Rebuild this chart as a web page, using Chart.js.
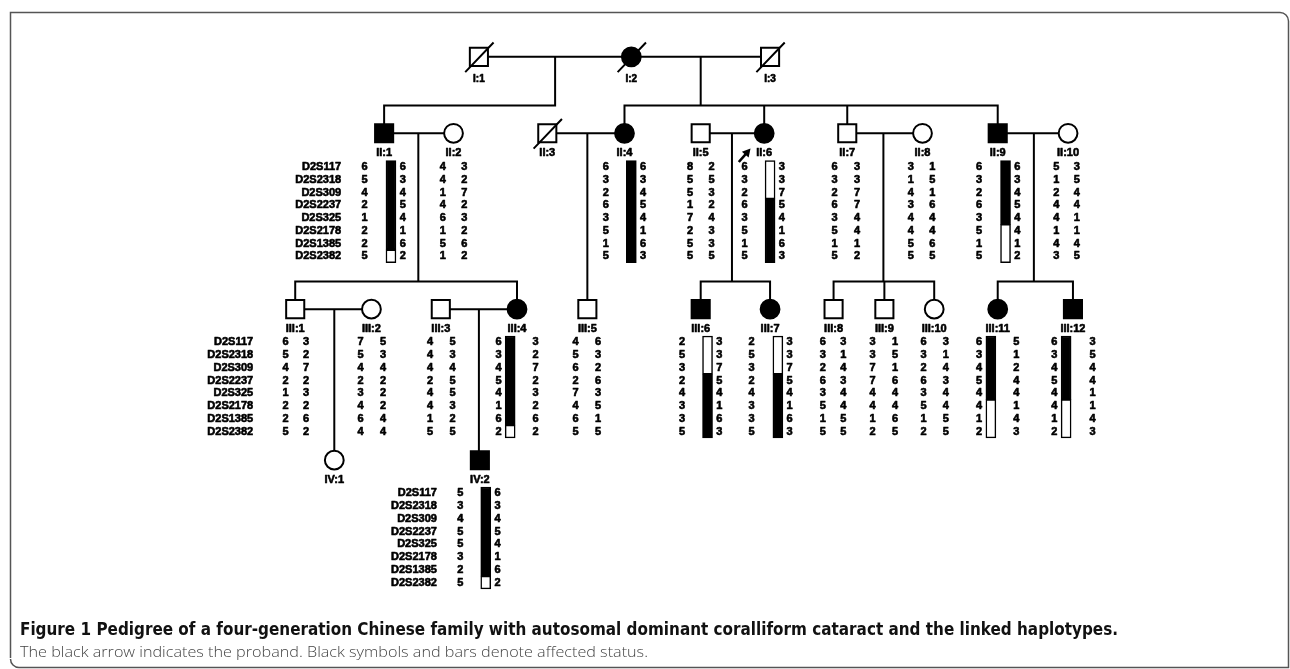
<!DOCTYPE html>
<html><head><meta charset="utf-8">
<script src="https://cdn.jsdelivr.net/npm/chart.js@4.4.1/dist/chart.umd.min.js"></script>
<style>html,body{margin:0;padding:0;background:#fff;}canvas{display:block;}</style>
</head><body>
<canvas id="c" width="1290" height="669"></canvas>
<script>
// ---------------- DATA ----------------
const markers = ['D2S117','D2S2318','D2S309','D2S2237','D2S325','D2S2178','D2S1385','D2S2382'];

const ids      = ['I:1','I:2','I:3','II:1','II:2','II:3','II:4','II:5','II:6','II:7','II:8','II:9','II:10',
                  'III:1','III:2','III:3','III:4','III:5','III:6','III:7','III:8','III:9','III:10','III:11','III:12','IV:1','IV:2'];
const sexes    = ['M','F','M','M','F','M','F','M','F','M','F','M','F','M','F','M','F','M','M','F','M','M','F','F','M','F','M'];
const affected = [0,1,0,1,0,0,1,0,1,0,0,1,0,0,0,0,1,0,1,1,0,0,0,1,1,0,1];
const deceased = [1,1,1,0,0,1,0,0,0,0,0,0,0,0,0,0,0,0,0,0,0,0,0,0,0,0,0];
const proband  = 'II:6';

// haplotypes: [left column, right column], one value per marker
const hII_1   = [[6,5,4,2,1,2,2,5],[6,3,4,5,4,1,6,2]];
const hII_2   = [[4,4,1,4,6,1,5,1],[3,2,7,2,3,2,6,2]];
const hII_4   = [[6,3,2,6,3,5,1,5],[6,3,4,5,4,1,6,3]];
const hII_5   = [[8,5,5,1,7,2,5,5],[2,5,3,2,4,3,3,5]];
const hII_6   = [[6,3,2,6,3,5,1,5],[3,3,7,5,4,1,6,3]];
const hII_7   = [[6,3,2,6,3,5,1,5],[3,3,7,7,4,4,1,2]];
const hII_8   = [[3,1,4,3,4,4,5,5],[1,5,1,6,4,4,6,5]];
const hII_9   = [[6,3,2,6,3,5,1,5],[6,3,4,5,4,4,1,2]];
const hII_10  = [[5,1,2,4,4,1,4,3],[3,5,4,4,1,1,4,5]];
const hIII_1  = [[6,5,4,2,1,2,2,5],[3,2,7,2,3,2,6,2]];
const hIII_2  = [[7,5,4,2,3,4,6,4],[5,3,4,2,2,2,4,4]];
const hIII_3  = [[4,4,4,2,4,4,1,5],[5,3,4,5,5,3,2,5]];
const hIII_4  = [[6,3,4,5,4,1,6,2],[3,2,7,2,3,2,6,2]];
const hIII_5  = [[4,5,6,2,7,4,6,5],[6,3,2,6,3,5,1,5]];
const hIII_6  = [[2,5,3,2,4,3,3,5],[3,3,7,5,4,1,6,3]];
const hIII_7  = [[2,5,3,2,4,3,3,5],[3,3,7,5,4,1,6,3]];
const hIII_8  = [[6,3,2,6,3,5,1,5],[3,1,4,3,4,4,5,5]];
const hIII_9  = [[3,3,7,7,4,4,1,2],[1,5,1,6,4,4,6,5]];
const hIII_10 = [[6,3,2,6,3,5,1,2],[3,1,4,3,4,4,5,5]];
const hIII_11 = [[6,3,4,5,4,4,1,2],[5,1,2,4,4,1,4,3]];
const hIII_12 = [[6,3,4,5,4,4,1,2],[3,5,4,4,1,1,4,3]];
const hIV_2   = [[5,3,4,5,5,3,2,5],[6,3,4,5,4,1,6,2]];

const haplotypes = [['II:1',hII_1],['II:2',hII_2],['II:4',hII_4],['II:5',hII_5],['II:6',hII_6],['II:7',hII_7],
  ['II:8',hII_8],['II:9',hII_9],['II:10',hII_10],['III:1',hIII_1],['III:2',hIII_2],['III:3',hIII_3],['III:4',hIII_4],
  ['III:5',hIII_5],['III:6',hIII_6],['III:7',hIII_7],['III:8',hIII_8],['III:9',hIII_9],['III:10',hIII_10],
  ['III:11',hIII_11],['III:12',hIII_12],['IV:2',hIV_2]];

// disease haplotype: [individual, carrying column (0 left / 1 right), linked segment per marker (1 black, 0 white)]
const carriers = [
  ['II:1', 1,[1,1,1,1,1,1,1,0]],
  ['II:4', 1,[1,1,1,1,1,1,1,1]],
  ['II:6', 1,[0,0,0,1,1,1,1,1]],
  ['II:9', 1,[1,1,1,1,1,0,0,0]],
  ['III:4',0,[1,1,1,1,1,1,1,0]],
  ['III:6',1,[0,0,0,1,1,1,1,1]],
  ['III:7',1,[0,0,0,1,1,1,1,1]],
  ['III:11',0,[1,1,1,1,1,0,0,0]],
  ['III:12',0,[1,1,1,1,1,0,0,0]],
  ['IV:2', 1,[1,1,1,1,1,1,1,0]]
];

const matings  = [['I:1','I:2'],['I:2','I:3'],['II:1','II:2'],['II:3','II:4'],['II:5','II:6'],['II:7','II:8'],['II:9','II:10'],['III:1','III:2'],['III:3','III:4']];
const children = [['II:1'],['II:4','II:6','II:7','II:9'],['III:1','III:4'],['III:5'],['III:6','III:7'],['III:8','III:9','III:10'],['III:11','III:12'],['IV:1'],['IV:2']];

const captionTitle = 'Figure 1 Pedigree of a four-generation Chinese family with autosomal dominant coralliform cataract and the linked haplotypes.';
const captionText  = 'The black arrow indicates the proband. Black symbols and bars denote affected status.';

// ---------------- LAYOUT ----------------
const W = 1290, H = 669;
const POS_X = {'I:1':475,'I:2':631,'I:3':773,'II:1':378,'II:2':449,'II:3':545,'II:4':624,'II:5':702,'II:6':767,
  'II:7':852,'II:8':929,'II:9':1006,'II:10':1078,'III:1':287,'III:2':365,'III:3':436,'III:4':514,'III:5':586,
  'III:6':702,'III:7':773,'III:8':838,'III:9':890,'III:10':941,'III:11':1006,'III:12':1083,'IV:1':327,'IV:2':476};
const GEN_Y = {I:44, II:124, III:308, IV:466};
const LABEL_DY = {I:23, II:21, III:21, IV:21};
const ALLELE_X = {'II:1':[358,397],'II:2':[438,460],'II:4':[605,643],'II:5':[691,713],'II:6':[747,785],'II:7':[839,862],
  'II:8':[917,939],'II:9':[987,1026],'II:10':[1066,1087],'III:1':[277,298],'III:2':[354,377],'III:3':[425,448],
  'III:4':[495,533],'III:5':[574,597],'III:6':[683,721],'III:7':[754,793],'III:8':[827,848],'III:9':[878,901],
  'III:10':[930,953],'III:11':[987,1025],'III:12':[1064,1103],'IV:2':[456,494]};
const ROW_Y0 = {II:159.3, III:342.7, IV:500.7};
const ROW_STEP = 13.33;
const MARKER_X = {II:334, III:244, IV:432};
const DROP_X = [553,702,413,586,734,889,1043,327,475];
const SIB_Y  = [95,95,279,null,279,279,279,null,null];
const BAR_GAP = 12;

const gen = id => id.split(':')[0];
const yOf = id => GEN_Y[gen(id)];
const GAP = {x:null, y:null};

// connecting lines
const lineData = [];
function seg(x1,y1,x2,y2){ lineData.push({x:x1,y:y1},{x:x2,y:y2},GAP); }
matings.forEach((m,i)=>{
  const [a,b] = m, y = yOf(a);
  seg(POS_X[a], y, POS_X[b], y);
  const kids = children[i], dx = DROP_X[i], sy = SIB_Y[i];
  if (sy === null) {
    seg(dx, y, dx, yOf(kids[0]));
  } else {
    seg(dx, y, dx, sy);
    const xs = kids.map(k=>POS_X[k]).concat([dx]);
    seg(Math.min(...xs), sy, Math.max(...xs), sy);
    kids.forEach(k=>seg(POS_X[k], sy, POS_X[k], yOf(k)));
  }
});

// deceased slashes
const slashData = [];
ids.forEach((id,i)=>{ if (deceased[i]) { const x=POS_X[id], y=yOf(id);
  slashData.push({x:x-14,y:y+16},{x:x+15,y:y-15},GAP); }});

// symbols
const symData = ids.map(id=>({x:POS_X[id], y:yOf(id)}));
const symStyle = sexes.map(s=> s==='M' ? 'rect' : 'circle');
const symRadius = sexes.map(s=> s==='M' ? 12.8 : 9.4);
const symFill = affected.map(a=> a ? '#000' : '#fff');

// haplotype bars
const barData = [], barFill = [];
carriers.forEach(([id, col, segs])=>{
  const g = gen(id), ax = ALLELE_X[id];
  const bx = col === 1 ? ax[1] - BAR_GAP : ax[0] + BAR_GAP;
  let start = 0;
  for (let r = 1; r <= segs.length; r++) {
    if (r === segs.length || segs[r] !== segs[start]) {
      const top = ROW_Y0[g] + ROW_STEP*start - ROW_STEP/2;
      const bot = ROW_Y0[g] + ROW_STEP*(r-1) + ROW_STEP/2;
      barData.push({x:bx, y:[top, bot]});
      barFill.push(segs[start] ? '#000' : '#fff');
      start = r;
    }
  }
});

// ---------------- PLUGINS ----------------
const framePlugin = {
  id:'frame',
  beforeDraw(chart){
    const c = chart.ctx;
    c.save();
    c.fillStyle = '#fff'; c.fillRect(0,0,W,H);
    c.strokeStyle = '#555'; c.lineWidth = 1.5;
    c.beginPath();
    c.moveTo(10.5, 658);
    c.lineTo(10.5, 12.5);
    c.lineTo(1280, 12.5);
    c.arcTo(1288.5, 12.5, 1288.5, 21, 8.5);
    c.lineTo(1288.5, 667.5);
    c.lineTo(19, 667.5);
    c.arcTo(10.5, 667.5, 10.5, 659, 8.5);
    c.stroke();
    c.restore();
  },
  afterDraw(chart){
    const c = chart.ctx;
    c.save();
    c.textBaseline = 'middle'; c.textAlign = 'left';
    c.fillStyle = '#111';
    c.font = 'bold 17px "Liberation Sans Narrow", "DejaVu Sans Condensed", "Liberation Sans", sans-serif';
    let w = c.measureText(captionTitle).width;
    c.save(); c.translate(20, 631); c.scale(1098/w, 1); c.fillText(captionTitle, 0, 0); c.restore();
    c.fillStyle = '#444';
    c.font = '300 15px "Open Sans", "Liberation Sans Narrow", sans-serif';
    w = c.measureText(captionText).width;
    c.save(); c.translate(20, 653); c.scale(628/w, 1); c.fillText(captionText, 0, 0); c.restore();
    c.restore();
  }
};

function heavyText(c, s, x, y){ c.strokeText(s, x, y); c.fillText(s, x, y); }

const textPlugin = {
  id:'pedText',
  afterDatasetsDraw(chart){
    const c = chart.ctx, sx = chart.scales.x, sy = chart.scales.y;
    const X = v => sx.getPixelForValue(v), Y = v => sy.getPixelForValue(v);
    c.save();
    c.fillStyle = '#000'; c.strokeStyle = '#000'; c.lineWidth = 0.6; c.lineJoin = 'round';
    c.textBaseline = 'middle';
    // individual labels
    ids.forEach(id=>{
      const g = gen(id);
      c.font = (g==='I' ? 'bold 10px' : 'bold 11px') + ' "Liberation Sans", Arial, sans-serif';
      c.textAlign = 'center';
      heavyText(c, id, X(POS_X[id]), Y(GEN_Y[g] + LABEL_DY[g]));
    });
    c.font = 'bold 11px "Liberation Sans", Arial, sans-serif';
    // marker names
    Object.keys(MARKER_X).forEach(g=>{
      c.textAlign = 'right';
      markers.forEach((m,r)=> heavyText(c, m, X(MARKER_X[g]), Y(ROW_Y0[g] + ROW_STEP*r)));
    });
    // alleles
    c.textAlign = 'center';
    haplotypes.forEach(([id, h])=>{
      const g = gen(id), ax = ALLELE_X[id];
      h.forEach((colVals, ci)=> colVals.forEach((v,r)=>
        heavyText(c, String(v), X(ax[ci]), Y(ROW_Y0[g] + ROW_STEP*r))));
    });
    // proband arrow
    const px = POS_X[proband], py = GEN_Y[gen(proband)];
    const x1 = X(px-26), y1 = Y(py+30), x2 = X(px-14), y2 = Y(py+16);
    const ang = Math.atan2(y2-y1, x2-x1);
    c.lineWidth = 2.6;
    c.beginPath(); c.moveTo(x1,y1); c.lineTo(x2 - 4*Math.cos(ang), y2 - 4*Math.sin(ang)); c.stroke();
    c.beginPath();
    c.moveTo(x2, y2);
    c.lineTo(x2 - 8*Math.cos(ang) + 4.5*Math.sin(ang), y2 - 8*Math.sin(ang) - 4.5*Math.cos(ang));
    c.lineTo(x2 - 8*Math.cos(ang) - 4.5*Math.sin(ang), y2 - 8*Math.sin(ang) + 4.5*Math.cos(ang));
    c.closePath(); c.fill();
    c.restore();
  }
};

// ---------------- CHART ----------------
new Chart(document.getElementById('c').getContext('2d'), {
  type: 'scatter',
  data: {
    datasets: [
      { type:'line', label:'deceased', data: slashData, borderColor:'#000', borderWidth:2, pointRadius:0, spanGaps:false, order:0 },
      { type:'scatter', label:'individuals', data: symData, pointStyle: symStyle, pointRadius: symRadius,
        pointHoverRadius: symRadius, pointBackgroundColor: symFill, pointBorderColor:'#000', pointBorderWidth:2, order:1 },
      { type:'bar', label:'haplotype', data: barData, backgroundColor: barFill, borderColor:'#000', borderWidth:1.5,
        borderSkipped:false, barThickness:10, grouped:false, order:2 },
      { type:'line', label:'lines', data: lineData, borderColor:'#000', borderWidth:2, pointRadius:0, spanGaps:false,
        borderCapStyle:'square', tension:0, order:3 }
    ]
  },
  options: {
    responsive:false, animation:false, devicePixelRatio:1, events:[],
    layout:{padding:0},
    scales:{
      x:{type:'linear', min:0, max:W, display:false, offset:false},
      y:{type:'linear', min:0, max:H, reverse:true, display:false}
    },
    plugins:{legend:{display:false}, tooltip:{enabled:false}, title:{display:false}}
  },
  plugins:[framePlugin, textPlugin]
});
</script>
</body></html>
